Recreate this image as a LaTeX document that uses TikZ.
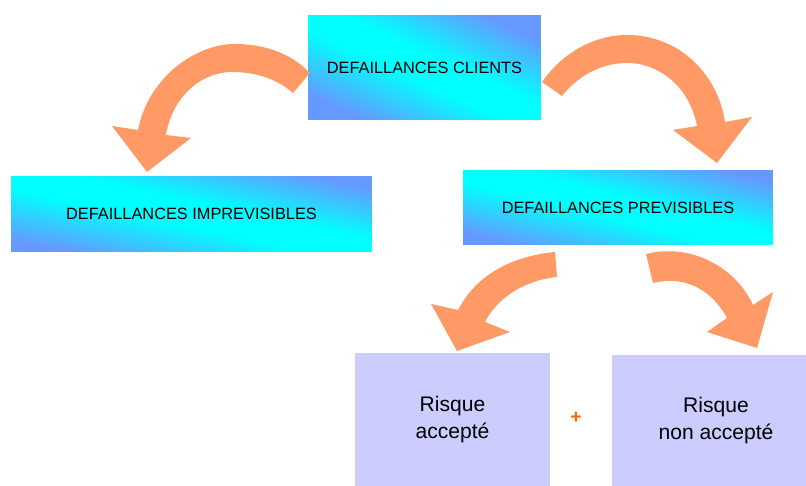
\documentclass[tikz,border=0pt]{standalone}
\usepackage{fontspec}
\setmainfont{Liberation Sans}
\usepackage{tikz}
\usetikzlibrary{positioning}
\definecolor{skyblue}{RGB}{102,153,255}
\definecolor{aqua}{RGB}{0,255,255}
\definecolor{lavender}{RGB}{204,204,255}
\definecolor{salmon}{RGB}{255,153,102}
\definecolor{plusorange}{RGB}{255,102,0}
% blue - cyan - blue band, laid along the diagonal of each box
\pgfdeclareverticalshading{diagband}{100bp}{color(0bp)=(skyblue); color(25bp)=(skyblue);
    color(45bp)=(aqua); color(55bp)=(aqua); color(75bp)=(skyblue); color(100bp)=(skyblue)}
\tikzset{
    defbox/.style={rectangle, shade, shading=diagband, shading angle=#1, inner sep=0pt, font=\fontsize{9.3}{11}\selectfont},
    riskbox/.style={rectangle, fill=lavender, inner sep=0pt, align=center, font=\fontsize{12}{15.5}\selectfont},
    bigarrow/.style={fill=salmon}
}

\begin{document}
\begin{tikzpicture}[x=0.02cm, y=-0.02cm]
    \useasboundingbox (0,0) rectangle (806,486);

    \node (clients) [defbox=-24.3, minimum width=4.66cm, minimum height=2.1cm] at (424.5,67.5) {DEFAILLANCES CLIENTS};
    \node (imprev) [defbox=-11.9, minimum width=7.22cm, minimum height=1.52cm] at (191.5,214) {DEFAILLANCES IMPREVISIBLES};
    \node (prev) [defbox=-13.6, minimum width=6.2cm, minimum height=1.5cm] at (618,207.5) {DEFAILLANCES PREVISIBLES};
    \node (accepte) [riskbox, minimum width=3.9cm, minimum height=2.66cm] at (452.5,419.5) {Risque\\accepté};
    \node (nonaccepte) [riskbox, minimum width=3.88cm, minimum height=2.62cm] at (709,420.5) {\hspace*{8pt}Risque\\\hspace*{8pt}non accepté};
    \node (plus) [text=plusorange, font=\fontsize{11}{11}\selectfont\bfseries] at (576,418) {+};

    % clients -> imprevisibles
    \fill[bigarrow] (310,73) .. controls (290,52) and (262,44) .. (235,44)
        .. controls (195,44) and (148,78) .. (138,130)
        -- (112,126) -- (147,172) -- (191,138) -- (166,135)
        .. controls (172,98) and (200,72) .. (232,72)
        .. controls (258,72) and (278,80) .. (293,93) -- cycle;
    % clients -> previsibles
    \fill[bigarrow] (542,82) .. controls (563,52) and (595,35) .. (627,35)
        .. controls (680,35) and (718,75) .. (725,122)
        -- (752,117) -- (717,163) -- (673,130) -- (697,126)
        .. controls (690,88) and (660,63) .. (627,63)
        .. controls (600,63) and (577,77) .. (562,96) -- cycle;
    % previsibles -> risque accepte
    \fill[bigarrow] (555,252) .. controls (515,256) and (478,272) .. (458,310)
        -- (431,304) -- (457,351) -- (510,332) -- (485,322)
        .. controls (497,298) and (525,280) .. (557,277) -- cycle;
    % previsibles -> risque non accepte
    \fill[bigarrow] (646,254) .. controls (690,243) and (735,266) .. (753,305)
        -- (773,292) -- (757,348) -- (707,332) -- (727,318)
        .. controls (712,290) and (685,275) .. (653,283) -- cycle;
\end{tikzpicture}
\end{document}
